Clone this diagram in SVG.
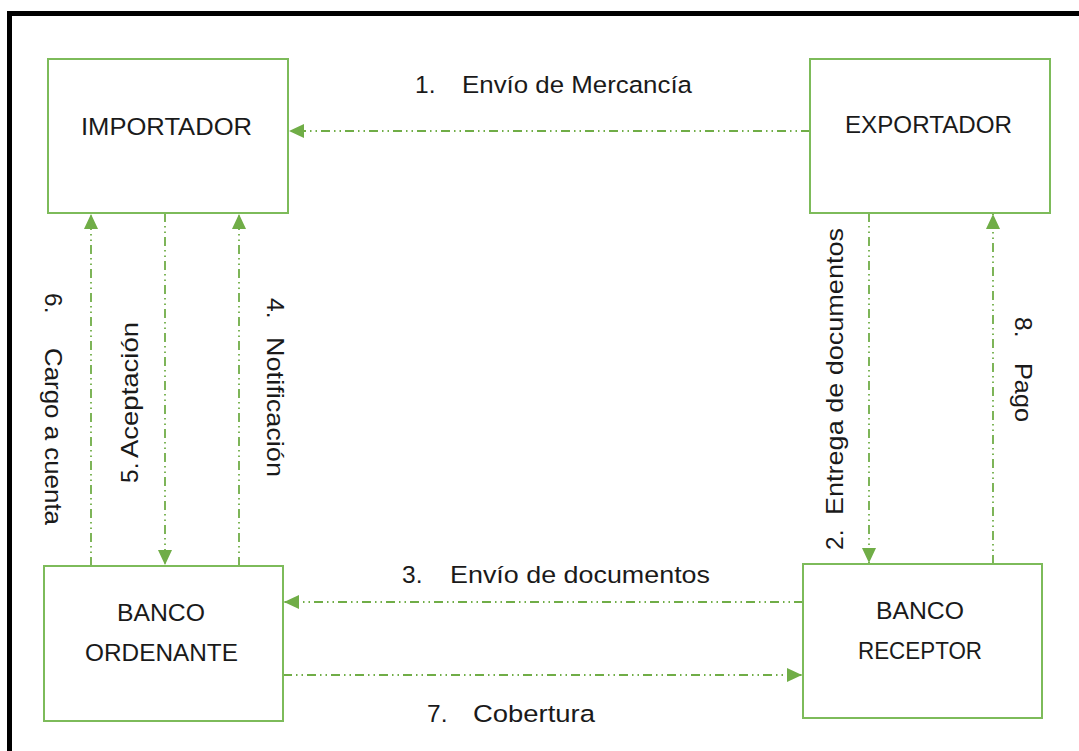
<svg xmlns="http://www.w3.org/2000/svg" width="1079" height="751" viewBox="0 0 1079 751">
<style>
.box{fill:#fff;stroke:#7DBB5A;stroke-width:2}
.t{font-family:"Liberation Sans",Arial,sans-serif;font-size:24.5px;fill:#1a1a1a}
.c{fill:none;stroke:#70AD47;stroke-width:1.8;stroke-dasharray:9 4 1.5 4 1.5 4}
</style>
<defs>
<marker id="ah" markerUnits="userSpaceOnUse" markerWidth="16" markerHeight="14" refX="15" refY="7" orient="auto">
<path d="M0,0 L15,7 L0,14 Z" fill="#70AD47"/>
</marker>
</defs>
<rect width="1079" height="751" fill="#fff"/>
<path d="M9.5,760 V13.5 H1090" fill="none" stroke="#000" stroke-width="5"/>

<g id="connectors">
<path class="c" d="M810,131 H289" marker-end="url(#ah)"/>
<path class="c" d="M869,213 V563" marker-end="url(#ah)"/>
<path class="c" d="M803,602 H284" marker-end="url(#ah)"/>
<path class="c" d="M239,566 V214" marker-end="url(#ah)"/>
<path class="c" d="M165,213 V565" marker-end="url(#ah)"/>
<path class="c" d="M91,566 V214" marker-end="url(#ah)"/>
<path class="c" d="M283,675 H802" marker-end="url(#ah)"/>
<path class="c" d="M993,564 V214" marker-end="url(#ah)"/>
</g>

<g id="labels">
<text class="t" x="415" y="93">1.</text>
<text class="t" x="462" y="93" textLength="230" lengthAdjust="spacingAndGlyphs">Envío de Mercancía</text>
<text class="t" x="402" y="583">3.</text>
<text class="t" x="450" y="583" textLength="260" lengthAdjust="spacingAndGlyphs">Envío de documentos</text>
<text class="t" x="427" y="722">7.</text>
<text class="t" x="473" y="722" textLength="122" lengthAdjust="spacingAndGlyphs">Cobertura</text>
<text class="t" transform="translate(45,293) rotate(90)">6.</text>
<text class="t" transform="translate(45,348) rotate(90)" textLength="177" lengthAdjust="spacingAndGlyphs">Cargo a cuenta</text>
<text class="t" transform="translate(138,483) rotate(-90)">5.</text>
<text class="t" transform="translate(138,458) rotate(-90)" textLength="136" lengthAdjust="spacingAndGlyphs">Aceptación</text>
<text class="t" transform="translate(267,298) rotate(90)">4.</text>
<text class="t" transform="translate(267,337) rotate(90)" textLength="140" lengthAdjust="spacingAndGlyphs">Notificación</text>
<text class="t" transform="translate(843,550) rotate(-90)">2.</text>
<text class="t" transform="translate(843,515) rotate(-90)" textLength="287" lengthAdjust="spacingAndGlyphs">Entrega de documentos</text>
<text class="t" transform="translate(1015,317) rotate(90)">8.</text>
<text class="t" transform="translate(1015,363) rotate(90)" textLength="59" lengthAdjust="spacingAndGlyphs">Pago</text>
</g>

<g id="importador">
<rect class="box" x="48" y="59" width="240" height="154"/>
<text class="t" x="81" y="135" textLength="171" lengthAdjust="spacingAndGlyphs">IMPORTADOR</text>
</g>
<g id="exportador">
<rect class="box" x="810" y="59" width="240" height="154"/>
<text class="t" x="845" y="133" textLength="167" lengthAdjust="spacingAndGlyphs">EXPORTADOR</text>
</g>
<g id="banco-ordenante">
<rect class="box" x="44" y="566" width="239" height="155"/>
<text class="t" x="117" y="621" textLength="88" lengthAdjust="spacingAndGlyphs">BANCO</text>
<text class="t" x="85" y="661" textLength="153" lengthAdjust="spacingAndGlyphs">ORDENANTE</text>
</g>
<g id="banco-receptor">
<rect class="box" x="803" y="564" width="239" height="154"/>
<text class="t" x="876" y="619" textLength="88" lengthAdjust="spacingAndGlyphs">BANCO</text>
<text class="t" x="858" y="659" textLength="124" lengthAdjust="spacingAndGlyphs">RECEPTOR</text>
</g>
</svg>
